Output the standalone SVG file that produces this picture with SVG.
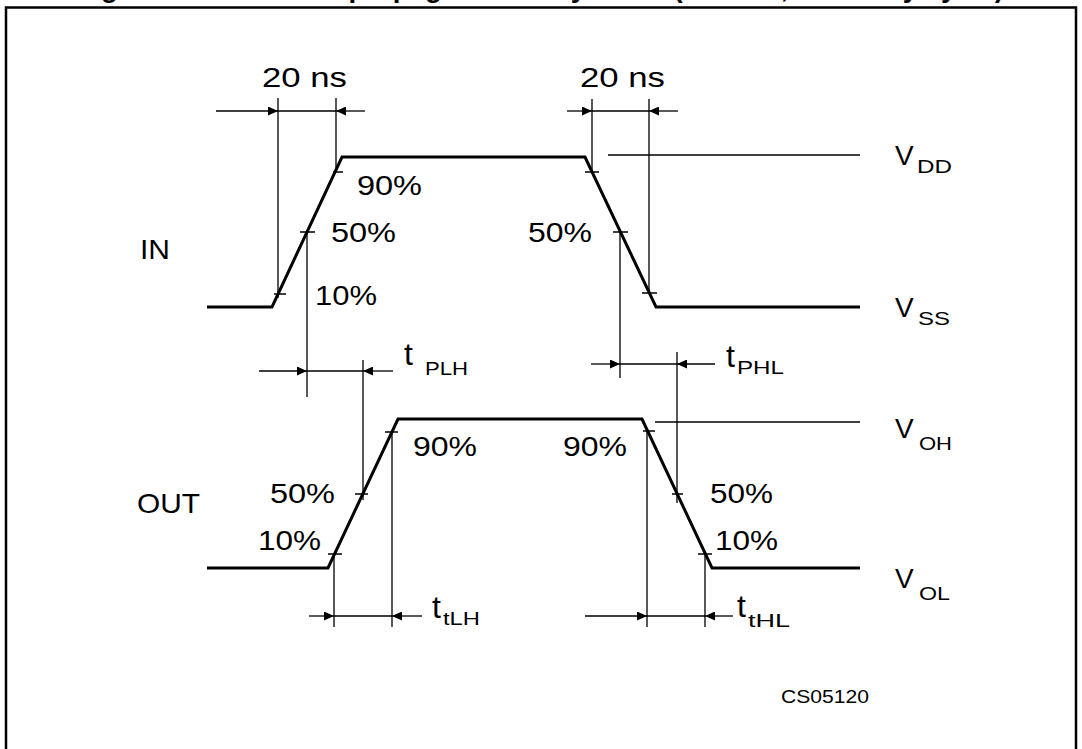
<svg xmlns="http://www.w3.org/2000/svg" width="1082" height="749" viewBox="0 0 1082 749">
<defs>
<style>
.frame{fill:none;stroke:#000;stroke-width:2.5}
.wave{fill:none;stroke:#000;stroke-width:3;stroke-linejoin:miter}
.thin{fill:none;stroke:#000;stroke-width:1.3}
.lbl{font-family:"Liberation Sans",Arial,sans-serif;font-size:28px;fill:#000}
.sub{font-family:"Liberation Sans",Arial,sans-serif;font-size:19px;fill:#000}
.tt{font-family:"Liberation Sans",Arial,sans-serif;font-size:32px;fill:#000}
.title{font-family:"Liberation Sans",Arial,sans-serif;font-size:27.6px;font-weight:bold;fill:#000}
.code{font-family:"Liberation Sans",Arial,sans-serif;font-size:18px;fill:#000}
</style>
<marker id="ah" viewBox="0 0 10 9" refX="10" refY="4.5" markerWidth="10" markerHeight="9" markerUnits="userSpaceOnUse" orient="auto">
<path d="M0,0 L10,4.5 L0,9 Z" fill="#000"/>
</marker>
</defs>
<rect width="1082" height="749" fill="#fff"/>
<g id="title"><text class="title" x="76.5" y="-3.5">Figure 4. Waveform: propagation delay times (f=1MHz; 50% duty cycle)</text></g>
<rect id="frame" class="frame" x="6" y="7.5" width="1070" height="780"/>

<g id="in-signal">
<path class="wave" d="M207,307 L272,307 L342,157 L585,157 L656,307 L860,307"/>
<path class="thin" d="M333,172 H343 M300,232 H315 M274,294 H286 M585,172 H599 M613,232 H628 M642,293 H657"/>
<line class="thin" x1="608" y1="155" x2="860" y2="155"/>
</g>

<g id="out-signal">
<path class="wave" d="M207,568 L328,568 L398,419 L642,419 L712,568 L860,568"/>
<path class="thin" d="M385,432 H398 M355,494 H368 M328,554 H342 M643,431 H655 M672,494 H683 M698,554 H712"/>
<line class="thin" x1="655" y1="422" x2="860" y2="422"/>
</g>

<g id="connectors">
<path class="thin" d="M278,98 V298 M336,98 V172 M592,99 V172 M649,99 V293 M307,232 V397 M620,232 V378 M363,360 V500 M677,352 V503 M334,554 V627 M392,431 V627 M647,431 V627 M705,554 V627"/>
<path class="thin" d="M278,111 H336 M592,111 H649 M307,371 H363 M620,364 H677 M334,616 H392 M647,616 H705"/>
<path class="thin" marker-end="url(#ah)" d="M216,111 H278"/>
<path class="thin" marker-end="url(#ah)" d="M365,111 H336"/>
<path class="thin" marker-end="url(#ah)" d="M567,111 H592"/>
<path class="thin" marker-end="url(#ah)" d="M678,111 H649"/>
<path class="thin" marker-end="url(#ah)" d="M259,371 H307"/>
<path class="thin" marker-end="url(#ah)" d="M393,371 H363"/>
<path class="thin" marker-end="url(#ah)" d="M591,364 H620"/>
<path class="thin" marker-end="url(#ah)" d="M715,364 H677"/>
<path class="thin" marker-end="url(#ah)" d="M309,616 H334"/>
<path class="thin" marker-end="url(#ah)" d="M422,616 H392"/>
<path class="thin" marker-end="url(#ah)" d="M585,616 H647"/>
<path class="thin" marker-end="url(#ah)" d="M733,616 H705"/>
</g>

<g id="labels">
<text class="lbl" x="262" y="87" textLength="85" lengthAdjust="spacingAndGlyphs">20 ns</text>
<text class="lbl" x="580" y="87" textLength="85" lengthAdjust="spacingAndGlyphs">20 ns</text>
<text class="lbl" x="357" y="195" textLength="65" lengthAdjust="spacingAndGlyphs">90%</text>
<text class="lbl" x="331" y="242" textLength="65" lengthAdjust="spacingAndGlyphs">50%</text>
<text class="lbl" x="528" y="242" textLength="64" lengthAdjust="spacingAndGlyphs">50%</text>
<text class="lbl" x="315" y="305" textLength="62" lengthAdjust="spacingAndGlyphs">10%</text>
<text class="lbl" x="140" y="259" textLength="30" lengthAdjust="spacingAndGlyphs">IN</text>
<text class="lbl" x="137" y="513" textLength="63" lengthAdjust="spacingAndGlyphs">OUT</text>
<text class="lbl" x="413" y="456" textLength="64" lengthAdjust="spacingAndGlyphs">90%</text>
<text class="lbl" x="563" y="456" textLength="64" lengthAdjust="spacingAndGlyphs">90%</text>
<text class="lbl" x="270" y="503" textLength="65" lengthAdjust="spacingAndGlyphs">50%</text>
<text class="lbl" x="258" y="550" textLength="63" lengthAdjust="spacingAndGlyphs">10%</text>
<text class="lbl" x="710" y="503" textLength="63" lengthAdjust="spacingAndGlyphs">50%</text>
<text class="lbl" x="715" y="550" textLength="63" lengthAdjust="spacingAndGlyphs">10%</text>

<text class="lbl" x="895" y="165">V</text><text class="sub" x="917" y="173" textLength="35" lengthAdjust="spacingAndGlyphs">DD</text>
<text class="lbl" x="895" y="317">V</text><text class="sub" x="918" y="325" textLength="32" lengthAdjust="spacingAndGlyphs">SS</text>
<text class="lbl" x="895" y="438">V</text><text class="sub" x="919" y="450" textLength="33" lengthAdjust="spacingAndGlyphs">OH</text>
<text class="lbl" x="895" y="588">V</text><text class="sub" x="919" y="600" textLength="31" lengthAdjust="spacingAndGlyphs">OL</text>

<text class="tt" x="404" y="365">t</text><text class="sub" x="425" y="375" textLength="43" lengthAdjust="spacingAndGlyphs">PLH</text>
<text class="tt" x="726" y="367">t</text><text class="sub" x="737" y="374" textLength="47" lengthAdjust="spacingAndGlyphs">PHL</text>
<text class="tt" x="432" y="618">t</text><text class="sub" x="443" y="625" textLength="37" lengthAdjust="spacingAndGlyphs">tLH</text>
<text class="tt" x="737" y="617">t</text><text class="sub" x="748" y="627" textLength="42" lengthAdjust="spacingAndGlyphs">tHL</text>

<text class="code" x="781" y="703" textLength="88" lengthAdjust="spacingAndGlyphs">CS05120</text>
</g>
</svg>
